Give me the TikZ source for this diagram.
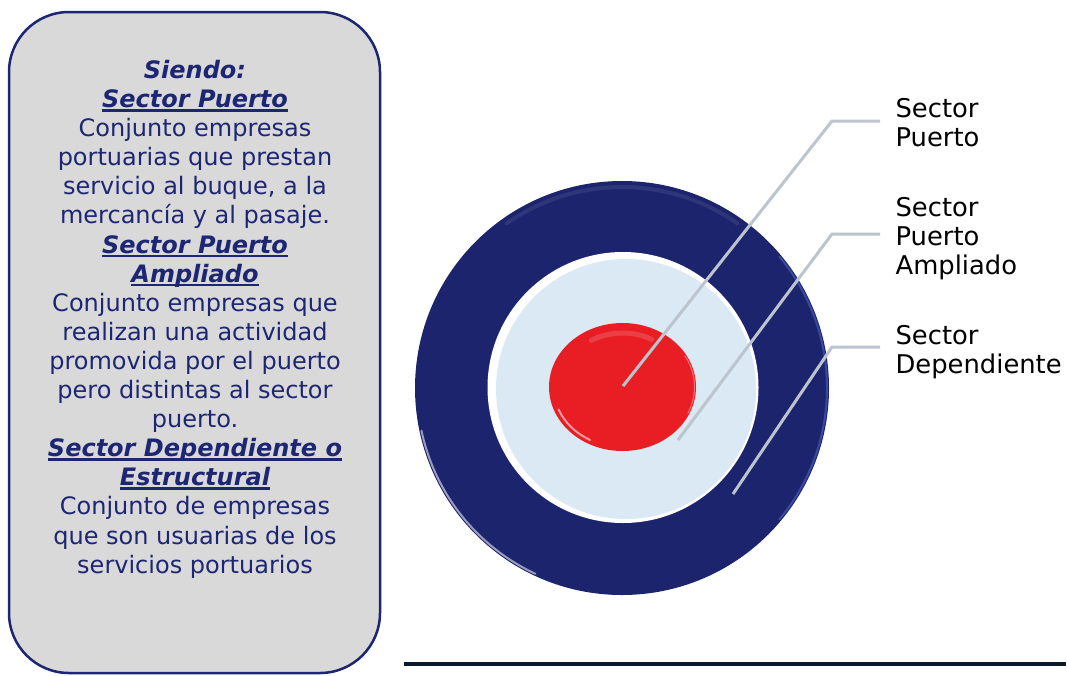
\documentclass[tikz,border=0pt]{standalone}
\usepackage{fontspec}
\setmainfont{DejaVu Sans}[ItalicFont={DejaVu Sans Oblique},BoldFont={DejaVu Sans Bold},BoldItalicFont={DejaVu Sans Bold Oblique}]
\usetikzlibrary{calc}
\definecolor{navy}{HTML}{1D2672}
\definecolor{boxfill}{HTML}{D9D9D9}
\definecolor{ringblue}{HTML}{1D246E}
\definecolor{rimblue}{HTML}{4252AA}
\definecolor{paleblue}{HTML}{DAE9F4}
\definecolor{targetred}{HTML}{E91E25}
\definecolor{leadergray}{HTML}{BCC5CD}
\definecolor{rulecol}{HTML}{0B1A2A}
\newcommand\myul[1]{\setbox0\hbox{#1}\rlap{\rule[-4.2pt]{\wd0}{2.6pt}}\box0}
\tikzset{
  infobox/.style={draw=navy,fill=boxfill,line width=2.5pt,rounded corners=60pt},
  infotext/.style={text=navy,align=center,inner sep=0pt,font=\fontsize{24}{29.1}\selectfont},
  lbl/.style={text=black,align=left,anchor=north west,inner xsep=15.4pt,inner ysep=0pt,font=\fontsize{25.8}{29}\selectfont},
  leader/.style={draw=leadergray,line width=3pt},
  sheen/.style={draw=white,line cap=round}
}
\begin{document}
\begin{tikzpicture}[x=1pt,y=-1pt]
\useasboundingbox (0,0) rectangle (1067,675);
\begin{scope}
\clip (0,0) rectangle (1067,675);
\draw[infobox] (9,12) rectangle (380,673);
\end{scope}
\node[infotext,anchor=north] (info) at (195,60) {%
\bfseries\itshape Siendo:\\
\myul{\bfseries\itshape Sector Puerto}\\
Conjunto empresas\\
portuarias que prestan\\
servicio al buque, a la\\
mercancía y al pasaje.\\
\myul{\bfseries\itshape Sector Puerto}\\
\myul{\bfseries\itshape Ampliado}\\
Conjunto empresas que\\
realizan una actividad\\
promovida por el puerto\\
pero distintas al sector\\
puerto.\\
\myul{\bfseries\itshape Sector Dependiente o}\\
\myul{\bfseries\itshape Estructural}\\
Conjunto de empresas\\
que son usuarias de los\\
servicios portuarios};
% target
\coordinate (c) at (622,388);
\fill[ringblue] (c) circle[radius=207];
\draw[rimblue,line width=2pt,opacity=0.8] ([shift={(320:205)}]c) arc[start angle=320,end angle=400,radius=205];
\draw[sheen,line width=2pt,opacity=0.55] ([shift={(115:205)}]c) arc[start angle=115,end angle=168,radius=205];
\draw[sheen,line width=4pt,opacity=0.08] ([shift={(235:201)}]c) arc[start angle=235,end angle=305,radius=201];
\coordinate (ci) at (623,387.5);
\fill[white] (ci) circle[radius=135.5];
\fill[paleblue] (626,389) circle[radius=130];
\coordinate (cr) at (622.5,387);
\fill[targetred] (cr) ellipse[x radius=73.5,y radius=64];
\draw[sheen,line width=5pt,opacity=0.15] ([shift={(240:62 and 54)}]cr) arc[start angle=240,end angle=298,x radius=62,y radius=54];
\draw[sheen,line width=2pt,opacity=0.55] ([shift={(118:69 and 60)}]cr) arc[start angle=118,end angle=158,x radius=69,y radius=60];
\draw[white,line width=1pt,opacity=0.4] ([shift={(330:72 and 62.5)}]cr) arc[start angle=330,end angle=385,x radius=72,y radius=62.5];
% labels
\node[lbl] (l1) at (880,97.8) {Sector\\Puerto};
\node[lbl] (l2) at (880,196.8) {Sector\\Puerto\\Ampliado};
\node[lbl] (l3) at (880,325) {Sector\\Dependiente};
\coordinate (p1) at (623,386);
\coordinate (k1) at (832,121);
\coordinate (p2) at (678,440);
\coordinate (k2) at (832,234);
\coordinate (p3) at (733,494);
\coordinate (k3) at (832,347);
\draw[leader] (p1) -- (k1) -- (k1 -| l1.west);
\draw[leader] (p2) -- (k2) -- (k2 -| l2.west);
\draw[leader] (p3) -- (k3) -- (k3 -| l3.west);
% bottom rule
\coordinate (r1) at (404,664);
\coordinate (r2) at (1066,664);
\draw[rulecol,line width=4pt] (r1) -- (r2);
\end{tikzpicture}
\end{document}
